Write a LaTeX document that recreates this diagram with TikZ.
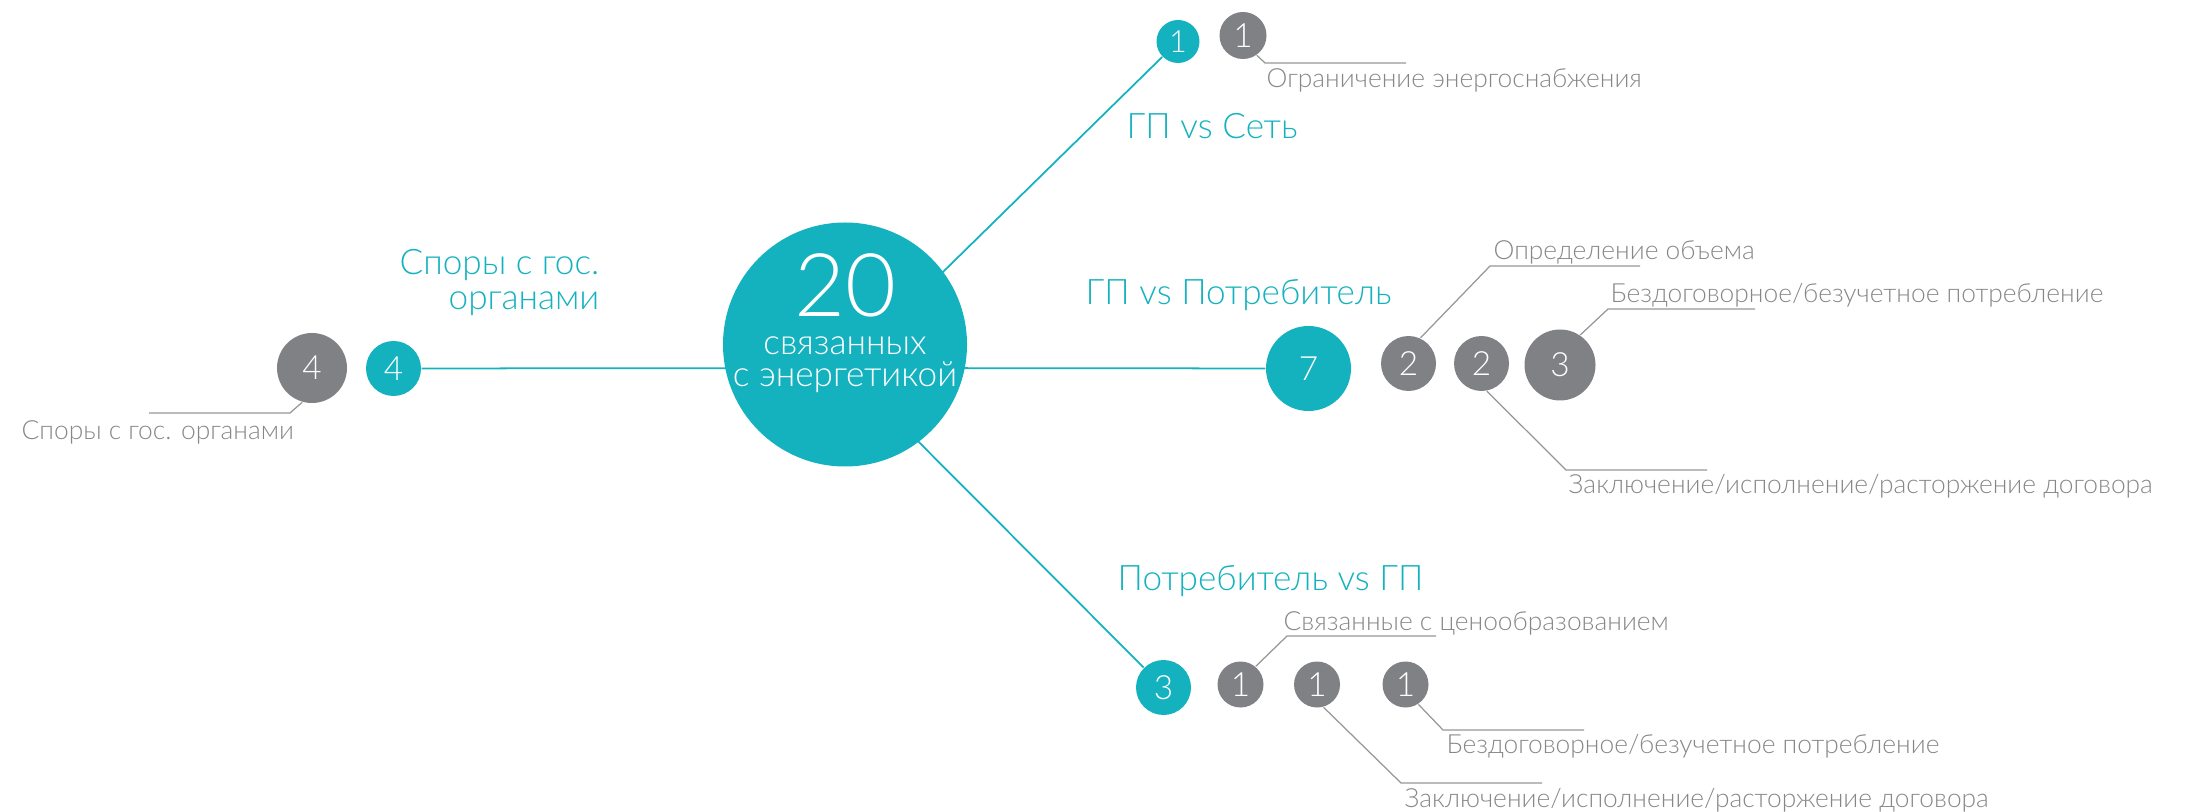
\documentclass[tikz,border=0pt]{standalone}
\usepackage{fontspec}
\IfFontExistsTF{Lato Light}{\setmainfont{Lato Light}}{\setmainfont{Lato}}
\usetikzlibrary{backgrounds}

\definecolor{energyteal}{RGB}{20,178,190}
\definecolor{dotgray}{RGB}{128,129,133}
\definecolor{notegray}{RGB}{135,135,138}
\definecolor{leadgray}{RGB}{150,150,152}

\begin{document}
\begin{tikzpicture}[
  tealdot/.style = {circle, fill=energyteal, text=white, inner sep=0pt, minimum size=#1,
                    font=\fontsize{9.5}{11}\selectfont},
  graydot/.style = {circle, fill=dotgray, text=white, inner sep=0pt, minimum size=#1,
                    font=\fontsize{9.5}{11}\selectfont},
  branch/.style = {draw=energyteal, line width=0.5pt},
  leader/.style = {draw=leadgray, line width=0.35pt},
  title/.style = {text=energyteal, inner sep=0pt, anchor=base west,
                  font=\fontsize{10}{12}\selectfont},
  note/.style = {text=notegray, inner sep=0pt, anchor=base west,
                 font=\fontsize{7.5}{9}\selectfont}
  ]
  \useasboundingbox (0,0) rectangle (21.92,-8.12);

  % centre
  \coordinate (hub) at (8.45,-3.68);
  \node[tealdot=2.44cm] (total) at (8.45,-3.445) {};
  \node[text=white, inner sep=0pt, anchor=base, font=\fontsize{25}{28}\selectfont]
    (totnum) at (8.45,-3.17) {20};
  \node[text=white, inner sep=0pt, anchor=base, font=\fontsize{10}{12}\selectfont]
    (totline1) at (8.45,-3.55) {связанных};
  \node[text=white, inner sep=0pt, anchor=base, font=\fontsize{10}{12}\selectfont]
    (totline2) at (8.45,-3.87) {с энергетикой};

  % branches
  \node[tealdot=0.43cm, font=\fontsize{8.7}{10}\selectfont] (net) at (11.78,-0.415) {1};
  \node[tealdot=0.85cm] (cons) at (13.085,-3.685) {7};
  \node[tealdot=0.55cm] (back) at (11.635,-6.875) {3};
  \node[tealdot=0.55cm] (gov) at (3.935,-3.685) {4};

  \node[title] (nettitle) at (11.26,-1.39) {ГП vs Сеть};
  \node[title] (constitle) at (10.85,-3.05) {ГП vs Потребитель};
  \node[title] (backtitle) at (11.17,-5.90) {Потребитель vs ГП};
  \node[title, anchor=base east] (govtitle1) at (6.00,-2.75) {Споры с гос.};
  \node[title, anchor=base east] (govtitle2) at (6.00,-3.10) {органами};

  % sub-items
  \node[graydot=0.47cm] (net1) at (12.43,-0.355) {1};
  \node[graydot=0.55cm] (cons1) at (14.085,-3.635) {2};
  \node[graydot=0.55cm] (cons2) at (14.815,-3.635) {2};
  \node[graydot=0.71cm] (cons3) at (15.60,-3.65) {3};
  \node[graydot=0.46cm] (back1) at (12.405,-6.845) {1};
  \node[graydot=0.46cm] (back2) at (13.17,-6.845) {1};
  \node[graydot=0.46cm] (back3) at (14.055,-6.845) {1};
  \node[graydot=0.70cm] (gov1) at (3.12,-3.68) {4};

  \node[note] (net1note) at (12.66,-0.88) {Ограничение энергоснабжения};
  \node[note] (cons1note) at (14.93,-2.60) {Определение объема};
  \node[note] (cons3note) at (16.10,-3.03) {Бездоговорное/безучетное потребление};
  \node[note] (cons2note) at (15.68,-4.94) {Заключение/исполнение/расторжение договора};
  \node[note] (back1note) at (12.83,-6.30) {Связанные с ценообразованием};
  \node[note] (back3note) at (14.46,-7.53) {Бездоговорное/безучетное потребление};
  \node[note] (back2note) at (14.04,-8.07) {Заключение/исполнение/расторжение договора};
  \node[note] (gov1note) at (0.21,-4.40) {Споры с гос. органами};

  \coordinate (net1k) at (12.65,-0.63);
  \coordinate (cons1k) at (14.90,-2.66);
  \coordinate (cons3k) at (16.08,-3.09);
  \coordinate (cons2k) at (15.66,-4.70);
  \coordinate (back1k) at (12.87,-6.36);
  \coordinate (back2k) at (14.01,-7.83);
  \coordinate (back3k) at (14.43,-7.30);
  \coordinate (gov1k) at (2.90,-4.13);

  \begin{pgfonlayer}{background}
    \draw[branch] (gov) -- (hub) -- (cons);
    \draw[branch] (hub) -- (net);
    \draw[branch] (hub) -- (back);
  \end{pgfonlayer}

  \draw[leader] (net1.-55) -- (net1k) -- ++(1.41,0);
  \draw[leader] (cons1.65) -- (cons1k) -- ++(1.50,0);
  \draw[leader] (cons3.56) -- (cons3k) -- ++(1.47,0);
  \draw[leader] (cons2.-79) -- (cons2k) -- ++(1.41,0);
  \draw[leader] (back1.50) -- (back1k) -- ++(1.49,0);
  \draw[leader] (back2.-74) -- (back2k) -- ++(1.41,0);
  \draw[leader] (back3.-57) -- (back3k) -- ++(1.41,0);
  \draw[leader] (gov1.-106) -- (gov1k) -- ++(-1.41,0);
\end{tikzpicture}
\end{document}
